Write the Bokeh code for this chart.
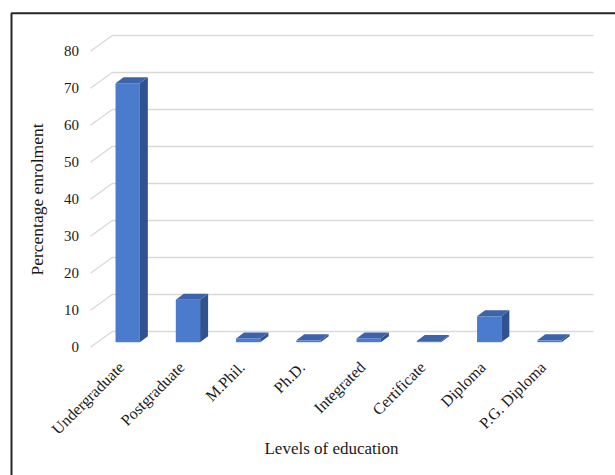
import math
from bokeh.plotting import figure
from bokeh.models import Range1d
from bokeh.core.properties import value
from bokeh.embed import file_html
from bokeh.resources import INLINE

# ---- data ----
categories = ["Undergraduate", "Postgraduate", "M.Phil.", "Ph.D.", "Integrated",
              "Certificate", "Diploma", "P.G. Diploma"]
enrolment = [70.0, 11.5, 1.0, 0.5, 1.0, 0.3, 7.0, 0.5]
y_ticks = [0, 10, 20, 30, 40, 50, 60, 70, 80]
y_title = "Percentage enrolment"
x_title = "Levels of education"

# ---- layout constants (pixel geometry converted to data units) ----
W, H = 615, 475
X0, DXP = 127.2, 60.25      # px of first category centre, px per category
Y0, DYP = 341.7, 3.70       # px of bar base, px per unit


def dx(px):
    return (px - X0) / DXP


def dy(py):
    return (Y0 - py) / DYP


FONT = "Liberation Serif"
TXT = "#1a1a1a"
FRONT = "#4a7bcc"
SIDE = "#30528e"
TOP = "#3d63ab"
GRID = "#d9d9d9"

p = figure(width=W, height=H, output_backend="svg", toolbar_location=None,
           x_range=Range1d(dx(0), dx(W)), y_range=Range1d(dy(H), dy(0)),
           x_axis_type=None, y_axis_type=None, min_border=0)
p.outline_line_color = None
p.grid.visible = False
p.background_fill_color = "white"

# back-wall gridlines and side-wall diagonals
back_off = (Y0 - 331.0) / DYP
front_off = (Y0 - 346.7) / DYP
gx0, gx1 = dx(111.7), dx(593.0)
fx = dx(90.0)
p.segment(x0=[gx0] * len(y_ticks), y0=[t + back_off for t in y_ticks],
          x1=[gx1] * len(y_ticks), y1=[t + back_off for t in y_ticks],
          line_color=GRID, line_width=1.6)
p.segment(x0=[fx] * len(y_ticks), y0=[t + front_off for t in y_ticks],
          x1=[gx0] * len(y_ticks), y1=[t + back_off for t in y_ticks],
          line_color=GRID, line_width=1.3)

# 3D bars
hw = 12.15 / DXP
ddx = 8.0 / DXP
ddy = 6.0 / DYP
xs = list(range(len(categories)))
side_xs, side_ys, top_xs, top_ys = [], [], [], []
for i, v in zip(xs, enrolment):
    side_xs.append([i + hw, i + hw + ddx, i + hw + ddx, i + hw])
    side_ys.append([0, ddy, v + ddy, v])
    top_xs.append([i - hw, i - hw + ddx, i + hw + ddx, i + hw])
    top_ys.append([v, v + ddy, v + ddy, v])
p.quad(left=[i - hw for i in xs], right=[i + hw for i in xs],
       bottom=[0] * len(xs), top=enrolment, fill_color=FRONT, line_color=None)
p.patches(xs=side_xs, ys=side_ys, fill_color=SIDE, line_color=None)
p.patches(xs=top_xs, ys=top_ys, fill_color=TOP, line_color=None)

# y tick labels
p.text(x=[dx(78.5)] * len(y_ticks), y=[t + front_off for t in y_ticks],
       text=[str(t) for t in y_ticks], text_font=value(FONT), text_font_size="15px",
       text_color=TXT, text_align="right", text_baseline="middle")

# category labels
p.text(x=[i + dx(121.0) for i in xs], y=[dy(364.0)] * len(xs), text=categories,
       angle=math.pi / 4, text_font=value(FONT), text_font_size="16px",
       text_color=TXT, text_align="right", text_baseline="middle")

# axis titles
p.text(x=[dx(331)], y=[dy(448)], text=[x_title], text_font=value(FONT),
       text_font_size="17px", text_color=TXT, text_align="center", text_baseline="middle")
p.text(x=[dx(36)], y=[dy(199)], text=[y_title], angle=math.pi / 2, text_font=value(FONT),
       text_font_size="17.5px", text_color=TXT, text_align="center", text_baseline="middle")

# chart border (left and top edges visible)
p.line(x=[dx(11), dx(11), dx(W + 5)], y=[dy(H + 5), dy(12.7), dy(12.7)],
       line_color="#262626", line_width=2)

open("out.html", "w").write(file_html(p, INLINE))
